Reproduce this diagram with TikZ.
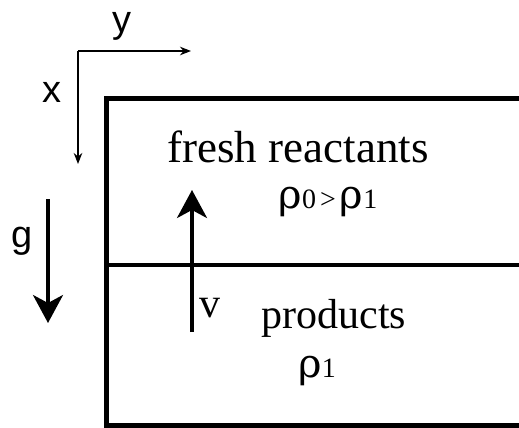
\documentclass[tikz,border=0pt]{standalone}
\usepackage{fontspec}
\setmainfont{Liberation Serif}
\newfontfamily\axfont{Liberation Sans}
\newfontfamily\rhofont{DejaVu Serif}
\usetikzlibrary{arrows.meta}
\newcommand{\bigsz}{\fontsize{45}{47}\selectfont}
\newcommand{\midsz}{\fontsize{42}{44}\selectfont}
\newcommand{\subsz}{\fontsize{28}{30}\selectfont}
\newcommand{\myrho}{{\rhofont\fontsize{40}{42}\selectfont ρ}}
\begin{document}
\begin{tikzpicture}[x=1pt,y=-1pt,
  axis/.style={line width=1.9pt,-{Stealth[length=11pt,width=8.5pt]}},
  bigarrow/.style={line width=3.5pt,-{Stealth[length=28pt,width=30pt,inset=8pt]}},
  wall/.style={line width=5pt},
  sanslab/.style={font=\axfont\fontsize{38}{40}\selectfont,inner sep=0pt},
  seriflab/.style={font=\bigsz,inner sep=0pt}]
\useasboundingbox (0,0) rectangle (519,428);
% axes
\coordinate (o) at (78,51);
\coordinate (ytip) at (191,51);
\coordinate (xtip) at (78,164);
\draw[axis] (o) -- (ytip);
\draw[axis] (o) -- (xtip);
\node[sanslab] (ylab) at (122,26) {y};
\node[sanslab] (xlab) at (52,92) {x};
% gravity
\coordinate (g0) at (48,199);
\coordinate (g1) at (48,323);
\draw[bigarrow] (g0) -- (g1);
\node[sanslab] (glab) at (22,241) {g};
% box
\coordinate (tr) at (522,98);
\coordinate (tl) at (106,98);
\coordinate (bl) at (106,425);
\coordinate (br) at (522,425);
\draw[wall] (tr) -- (tl) -- (bl) -- (br);
\coordinate (ml) at (106,265);
\coordinate (mr) at (522,265);
\draw[line width=3.2pt] (ml) -- (mr);
% velocity
\coordinate (v0) at (192,332);
\coordinate (v1) at (192,190);
\draw[bigarrow] (v0) -- (v1);
\node[seriflab,font=\midsz,anchor=base] (vlab) at (210,317) {v};
% texts
\node[seriflab,anchor=base] (fresh) at (298,162) {fresh reactants};
\node[seriflab,anchor=base] (rho01) at (328,208) {\myrho\subsz 0\kern4pt>\kern4pt\myrho\subsz 1};
\node[seriflab,font=\midsz,anchor=base] (prod) at (334,328) {products};
\node[seriflab,anchor=base] (rho1) at (317,377) {\myrho\subsz 1};
\end{tikzpicture}
\end{document}
